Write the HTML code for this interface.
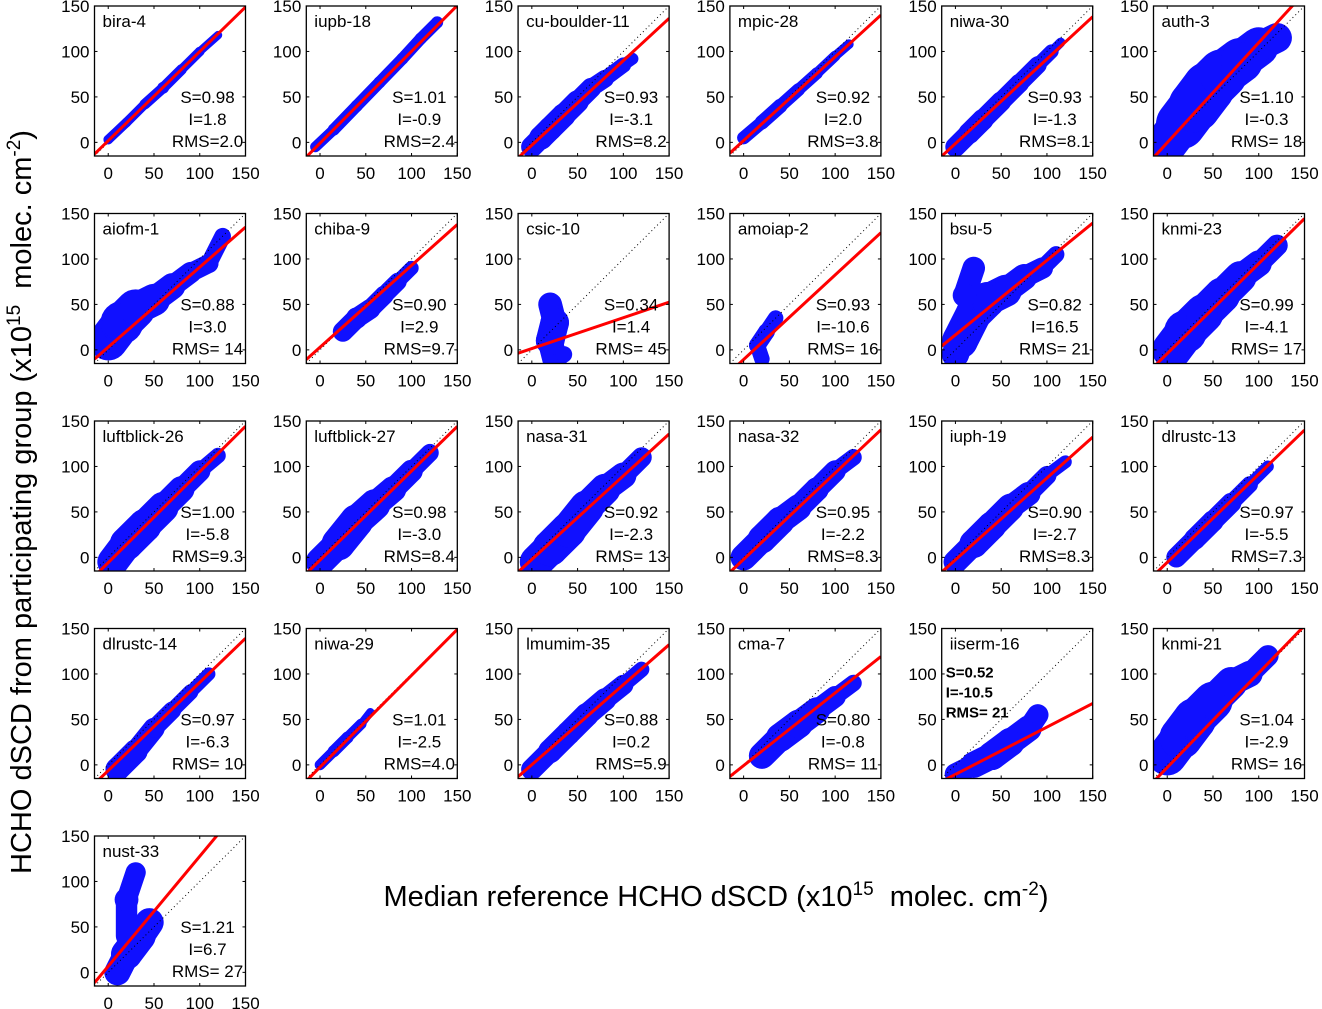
<!DOCTYPE html>
<html><head><meta charset="utf-8"><style>
body{margin:0;background:#fff;}
svg{display:block;font-family:"Liberation Sans",sans-serif;}
</style></head><body>
<svg id="fig" width="1322" height="1009" viewBox="0 0 1322 1009">
<text x="716" y="906" font-size="29" text-anchor="middle" xml:space="preserve">Median reference HCHO dSCD (x10<tspan dy="-11" font-size="19">15</tspan><tspan dy="11">  molec. cm</tspan><tspan dy="-11" font-size="19">-2</tspan><tspan dy="11">)</tspan></text>
<text transform="translate(31,502) rotate(-90)" font-size="29" text-anchor="middle" xml:space="preserve">HCHO dSCD from participating group (x10<tspan dy="-11" font-size="19">15</tspan><tspan dy="11">  molec. cm</tspan><tspan dy="-11" font-size="19">-2</tspan><tspan dy="11">)</tspan></text>
</svg>
<script>
const names=["bira-4","iupb-18","cu-boulder-11","mpic-28","niwa-30","auth-3","aiofm-1","chiba-9","csic-10","amoiap-2","bsu-5","knmi-23","luftblick-26","luftblick-27","nasa-31","nasa-32","iuph-19","dlrustc-13","dlrustc-14","niwa-29","lmumim-35","cma-7","iiserm-16","knmi-21","nust-33"];
const slopes=[0.98,1.01,0.93,0.92,0.93,1.10,0.88,0.90,0.34,0.93,0.82,0.99,1.00,0.98,0.92,0.95,0.90,0.97,0.97,1.01,0.88,0.80,0.52,1.04,1.21];
const intercepts=[1.8,-0.9,-3.1,2.0,-1.3,-0.3,3.0,2.9,1.4,-10.6,16.5,-4.1,-5.8,-3.0,-2.3,-2.2,-2.7,-5.5,-6.3,-2.5,0.2,-0.8,-10.5,-2.9,6.7];
const rmsLabels=["2.0","2.4","8.2","3.8","8.1","18","14","9.7","45","16","21","17","9.3","8.4","13","8.3","8.3","7.3","10","4.0","5.9","11","21","16","27"];
const ticks=[0,50,100,150];
const clouds=[
[[0,3,4],[20,22,4],[40,42,4],[60,60,5],[80,80,4],[100,100,4],[120,118,3]],
[[-5,-5,4],[15,14,5],[40,40,5],[65,66,5],[90,92,5],[110,114,5],[128,132,5]],
[[0,-5,8],[10,5,10],[20,15,10],[35,30,10],[50,45,9],[65,60,8],[80,70,7],[100,85,6],[110,92,4]],
[[0,5,5],[20,22,6],[40,40,6],[60,58,5],[80,76,5],[100,95,4],[115,108,4]],
[[0,-5,8],[15,10,9],[30,25,9],[50,45,8],[70,65,8],[90,85,7],[105,100,5],[115,110,3]],
[[0,0,15],[15,20,20],[30,40,22],[45,60,22],[60,75,20],[80,90,18],[100,105,15],[120,115,10]],
[[0,10,15],[15,30,18],[30,45,15],[50,55,12],[70,70,10],[90,85,8],[110,95,8],[125,125,6]],
[[25,20,8],[40,35,9],[55,45,8],[70,60,8],[85,75,7],[100,90,5]],
[[25,-10,9],[20,10,12],[25,30,12],[20,50,8],null,[35,-5,7]],
[[20,-10,6],[15,5,7],[25,20,7],[35,35,6]],
[[0,-5,8],[5,10,15],[20,40,15],[35,55,15],[55,65,12],[75,80,10],[95,90,8],[110,105,6],null,[20,90,9],[10,60,10]],
[[5,0,15],[20,20,18],[40,40,15],[60,60,15],[80,80,12],[100,95,10],[120,115,8]],
[[5,-5,12],[20,15,14],[40,35,14],[60,55,12],[80,75,10],[100,95,8],[120,112,5]],
[[0,-5,10],[20,15,14],[40,40,14],[60,58,12],[80,75,10],[100,95,9],[120,115,6]],
[[5,-5,13],[20,10,15],[40,30,15],[60,55,14],[80,75,12],[100,90,10],[120,110,7]],
[[0,0,10],[20,20,12],[40,40,12],[60,55,10],[80,75,10],[100,95,8],[120,110,6]],
[[0,-5,8],[20,15,12],[40,35,12],[60,55,11],[80,70,9],[100,90,7],[120,105,4]],
[[10,0,8],[30,20,9],[50,40,9],[70,60,8],[90,80,6],[110,100,4]],
[[10,-5,10],[30,15,10],[50,40,8],[70,60,7],[90,80,6],[110,100,5]],
[[0,0,4],[15,15,5],[30,30,5],[45,45,4],[55,58,3]],
[[0,-5,8],[20,15,10],[40,35,10],[60,55,10],[80,72,9],[100,88,8],[120,105,5]],
[[20,10,10],[40,30,12],[60,45,12],[80,60,10],[100,75,8],[120,90,6]],
[[0,-10,8],[20,0,10],[40,10,12],[60,25,12],[80,40,10],[90,55,8]],
[[0,10,15],[15,30,18],[30,50,18],[50,70,15],[70,90,12],[90,100,10],[110,120,8]],
[[10,0,9],[20,20,13],[35,40,13],[45,55,11],null,[20,40,8],[20,80,10],[30,110,7]]
];
const NS="http://www.w3.org/2000/svg";
const svg=document.getElementById('fig');
const W=151,H=150,MIN=-15,MAX=150,SPREAD=1.3;
function mk(tag,attrs,parent){const e=document.createElementNS(NS,tag);for(const k in attrs)e.setAttribute(k,attrs[k]);parent.appendChild(e);return e;}
names.forEach((nm,i)=>{
  const c=i%6,r=Math.floor(i/6);
  const L=94.5+211.8*c,T=6+207.5*r;
  const sx=v=>L+(v-MIN)/(MAX-MIN)*W, sy=v=>T+H-(v-MIN)/(MAX-MIN)*H;
  const k=W/(MAX-MIN)*SPREAD;
  const g=mk('g',{},svg);
  
  
  const cp=mk('clipPath',{id:'cp'+i},g);
  mk('rect',{x:L,y:T,width:W,height:H},cp);
  const inner=mk('g',{'clip-path':'url(#cp'+i+')'},g);
  const pts=clouds[i];
  pts.forEach((p,j)=>{
    if(!p)return;
    const e=mk('circle',{cx:sx(p[0]),cy:sy(p[1]),r:p[2]*k,fill:'#1010ff'},inner);
    
    
    const q=pts[j+1];
    if(q){
      const s=mk('line',{x1:sx(p[0]),y1:sy(p[1]),x2:sx(q[0]),y2:sy(q[1]),stroke:'#1010ff','stroke-width':(p[2]+q[2])*k,'stroke-linecap':'round'},inner);
      
      
    }
  });
  const d=mk('line',{x1:sx(MIN),y1:sy(MIN),x2:sx(MAX),y2:sy(MAX),stroke:'#000','stroke-width':1,'stroke-dasharray':'1,3'},inner);
  
  
  const fl=mk('line',{x1:sx(MIN),y1:sy(slopes[i]*MIN+intercepts[i]),x2:sx(MAX),y2:sy(slopes[i]*MAX+intercepts[i]),stroke:'#ff0000','stroke-width':3},inner);
  
  
  const b=mk('rect',{x:L,y:T,width:W,height:H,fill:'none',stroke:'#000','stroke-width':1.3},g);
  
  
  ticks.forEach(t=>{
    mk('line',{x1:sx(t),y1:T+H,x2:sx(t),y2:T+H-3,stroke:'#000'},g);
    mk('line',{x1:sx(t),y1:T,x2:sx(t),y2:T+3,stroke:'#000'},g);
    mk('line',{x1:L,y1:sy(t),x2:L+3,y2:sy(t),stroke:'#000'},g);
    mk('line',{x1:L+W,y1:sy(t),x2:L+W-3,y2:sy(t),stroke:'#000'},g);
    const xt=mk('text',{x:sx(t),y:T+H+23,'font-size':17,'text-anchor':'middle'},g);xt.textContent=t;
    
    
    const yt=mk('text',{x:L-5,y:sy(t)+6,'font-size':17,'text-anchor':'end'},g);yt.textContent=t;
    
    
  });
  const tt=mk('text',{x:L+8,y:T+21,'font-size':17},g);tt.textContent=nm;
  
  
  const lines=['S='+slopes[i].toFixed(2),'I='+intercepts[i].toFixed(1),'RMS='+(rmsLabels[i].length<3?' '+rmsLabels[i]:rmsLabels[i])];
  lines.forEach((s,kk)=>{
    let st;
    if(nm==='iiserm-16'){
      st=mk('text',{x:L+4,y:T+49+kk*20,'font-size':15,'font-weight':'bold'},g);
    }else{
      st=mk('text',{x:L+113,y:T+97+kk*22,'font-size':17,'text-anchor':'middle','xml:space':'preserve'},g);
    }
    st.textContent=s;
    
    
  });
});
</script>
</body></html>
